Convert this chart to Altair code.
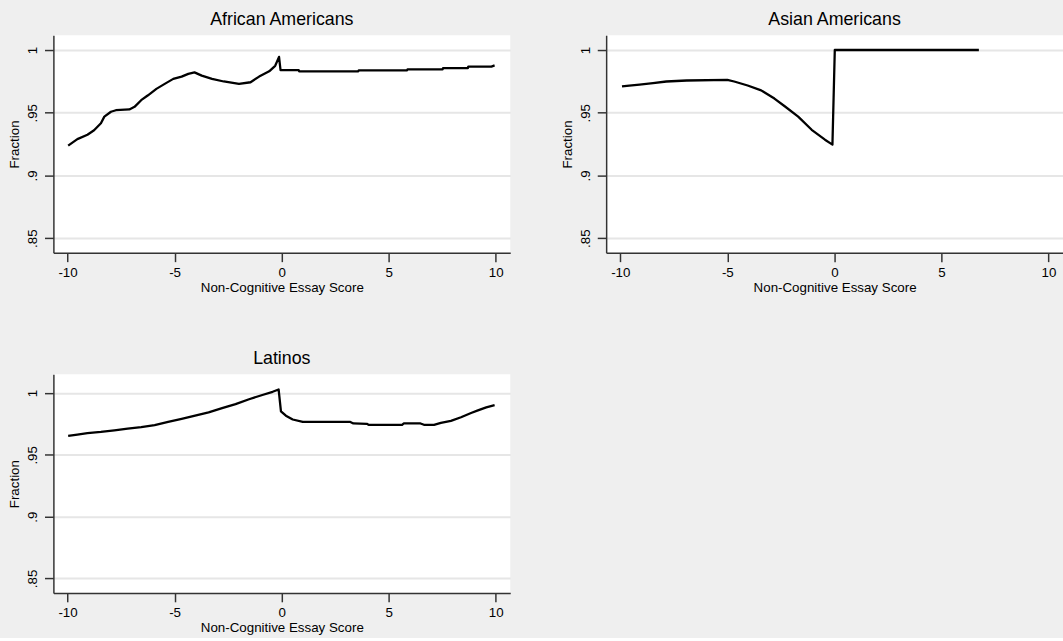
import altair as alt
import pandas as pd

# ---- data ----
aa_x = [-9.97, -9.54, -9.07, -8.76, -8.44, -8.28, -7.97, -7.74, -7.11, -6.87, -6.56, -6.24,
        -5.85, -5.46, -5.06, -4.67, -4.36, -4.07, -3.73, -3.25, -2.70, -1.99, -1.45, -1.05,
        -0.58, -0.30, -0.12, -0.05, 0.80, 0.82, 3.58, 3.60, 5.86, 5.88, 7.52, 7.54, 8.70,
        8.72, 9.80, 9.95]
aa_y = [0.9238, 0.929, 0.9325, 0.936, 0.9416, 0.9469, 0.9508, 0.952, 0.9526, 0.9547, 0.960,
        0.9639, 0.969, 0.973, 0.977, 0.9788, 0.981, 0.9822, 0.9796, 0.977, 0.9749, 0.973,
        0.9743, 0.9788, 0.983, 0.9874, 0.9945, 0.9840, 0.9840, 0.9830, 0.9830, 0.9838,
        0.9838, 0.9846, 0.9846, 0.9856, 0.9856, 0.9868, 0.9868, 0.9877]

as_x = [-9.92, -9.58, -9.10, -8.47, -7.85, -6.90, -5.00, -4.68, -4.05, -3.42, -2.80, -2.32,
        -1.69, -1.06, -0.44, -0.09, 0.02, 6.75]
as_y = [0.971, 0.9717, 0.9725, 0.9736, 0.9749, 0.9757, 0.9762, 0.9749, 0.9717, 0.9678,
        0.9613, 0.9552, 0.9469, 0.9364, 0.9285, 0.9246, 1.0, 1.0]

la_x = [-9.97, -9.54, -9.07, -8.44, -7.81, -7.19, -6.56, -5.93, -5.30, -4.67, -4.04, -3.41,
        -2.78, -2.15, -1.52, -0.90, -0.42, -0.14, -0.03, 0.20, 0.52, 0.99, 3.19, 3.35, 3.98,
        4.06, 5.63, 5.71, 6.49, 6.65, 7.12, 7.44, 7.91, 8.38, 8.85, 9.17, 9.56, 9.95]
la_y = [0.9653, 0.9664, 0.9675, 0.9685, 0.9698, 0.9712, 0.9725, 0.9741, 0.9767, 0.9791,
        0.9817, 0.9844, 0.9878, 0.991, 0.995, 0.9984, 1.001, 1.0029, 0.9852, 0.9817, 0.9786,
        0.9767, 0.9767, 0.9754, 0.9751, 0.9743, 0.9743, 0.9754, 0.9754, 0.9743, 0.9743,
        0.9759, 0.9775, 0.9804, 0.9839, 0.986, 0.9884, 0.9902]

x_ticks = [-10, -5, 0, 5, 10]
y_ticks = [0.85, 0.9, 0.95, 1.0]

FONT = "Liberation Sans"
AXIS_COLOR = "#333333"


def panel(title, xs, ys, ydom, h):
    df = pd.DataFrame({"x": xs, "y": ys})
    return (
        alt.Chart(df, title=alt.Title(title))
        .mark_line(color="black", strokeWidth=2.3, strokeJoin="round")
        .encode(
            x=alt.X("x:Q", scale=alt.Scale(domain=[-10.66, 10.68], nice=False, zero=False),
                    axis=alt.Axis(values=x_ticks, title="Non-Cognitive Essay Score", grid=False,
                                  labelExpr="'' + datum.value")),
            y=alt.Y("y:Q", scale=alt.Scale(domain=ydom, nice=False, zero=False),
                    axis=alt.Axis(values=y_ticks, title="Fraction", grid=True,
                                  labelExpr="datum.value == 1 ? '1' : slice(format(datum.value, '.2~f'), 1)")),
        )
        .properties(width=462, height=h)
    )


p1 = panel("African Americans", aa_x, aa_y, [0.8384, 1.0118], 220)
p2 = panel("Asian Americans", as_x, as_y, [0.8384, 1.0118], 220)
p3 = panel("Latinos", la_x, la_y, [0.8383, 1.0151], 221)

chart = (
    alt.vconcat(alt.hconcat(p1, p2, spacing=51), p3, spacing=57)
    .properties(background="#efefef", padding={"left": 8, "top": 8, "right": 0, "bottom": 0})
    .configure_view(fill="white", stroke=None)
    .configure_title(font=FONT, fontSize=18, fontWeight="normal", color="black", offset=6)
    .configure_axis(
        labelFont=FONT, titleFont=FONT, labelFontSize=13.5, titleFontSize=13.5,
        titleFontWeight="normal", labelColor="black", titleColor="black",
        domainColor=AXIS_COLOR, tickColor=AXIS_COLOR, domainWidth=1.5, tickWidth=1.5,
        tickSize=9, gridColor="#e6e6e6", gridWidth=2,
    )
    .configure_axisX(labelPadding=4, titlePadding=2)
    .configure_axisY(labelAngle=270, labelAlign="center", labelBaseline="bottom",
                     labelPadding=5, titlePadding=4)
)

chart.save("out.html", embed_options={"renderer": "svg", "actions": False})
